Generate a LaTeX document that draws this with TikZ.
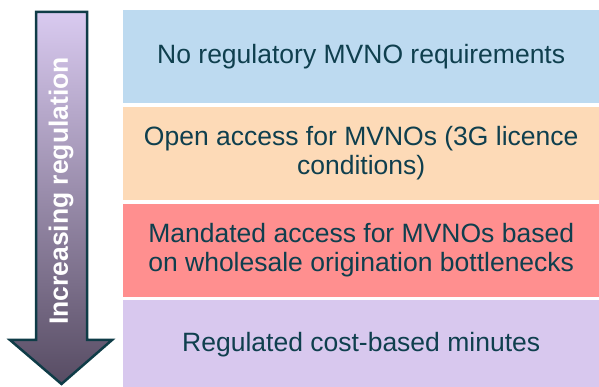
\documentclass[tikz,border=0pt]{standalone}
\usepackage{fontspec}
\setmainfont{Liberation Sans}
\usetikzlibrary{positioning}

\definecolor{ink}{HTML}{0F3F4E}
\definecolor{boxblue}{HTML}{BDDAF0}
\definecolor{boxpeach}{HTML}{FDDAB7}
\definecolor{boxred}{HTML}{FF8F8F}
\definecolor{boxlilac}{HTML}{D8C8EE}
\definecolor{arrowtop}{HTML}{D9CAF0}
\definecolor{arrowbot}{HTML}{574C63}
\definecolor{arrowline}{HTML}{0F3C47}

\tikzset{
  tier/.style={text centered, align=center, minimum width=476pt, minimum height=93.3pt,
    text=ink, font=\fontsize{26.5}{29}\selectfont},
}

\begin{document}
\begin{tikzpicture}[x=1pt, y=1pt, node distance=3pt, auto]
\useasboundingbox (0,0) rectangle (599,387);

%arrow
\draw [line width=2.5pt, draw=arrowline, top color=arrowtop, bottom color=arrowbot]
  (36,375) -- (87,375) -- (87,47) -- (112,47) -- (61.5,3) -- (10,47) -- (36,47) -- cycle;
\node [rotate=90, text=white, font=\fontsize{26.5}{29}\selectfont\bfseries] (label) at (61,196) {Increasing regulation};

%boxes
\node [tier, fill=boxblue, anchor=north west] (1) at (123,377) {No regulatory MVNO requirements};
\node [tier, fill=boxpeach, below=of 1] (2) {Open access for MVNOs (3G licence\\conditions)};
\node [tier, fill=boxred, below=of 2] (3) {Mandated access for MVNOs based\\on wholesale origination bottlenecks};
\node [tier, fill=boxlilac, below=of 3, minimum height=88pt] (4) {Regulated cost-based minutes};

\end{tikzpicture}
\end{document}
